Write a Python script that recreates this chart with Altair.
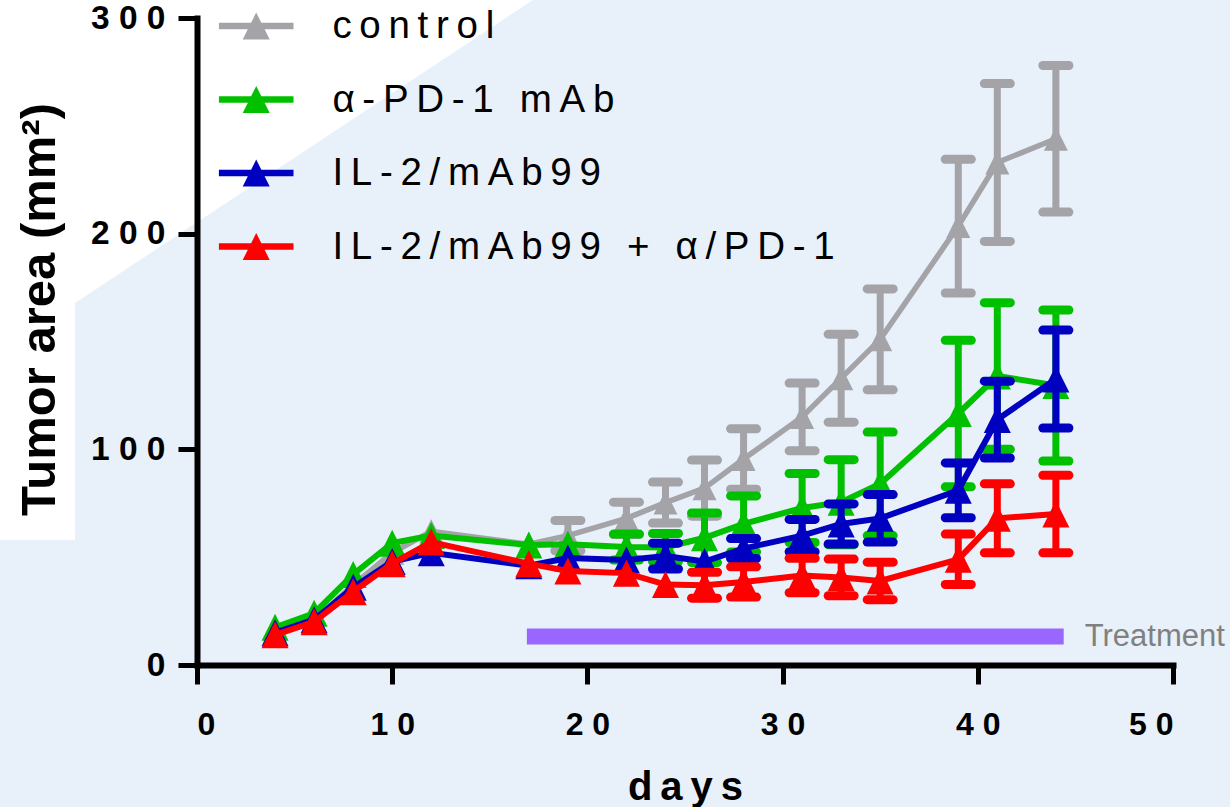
import base64
import altair as alt
import pandas as pd

# ---------------- data ----------------
days = [4, 6, 8, 10, 12, 17, 19, 22, 24, 26, 28, 31, 33, 35, 39, 41, 44]
groups = ["control", "α-PD-1 mAb", "IL-2/mAb99", "IL-2/mAb99 + α/PD-1"]
colors = ["#a3a3a8", "#00c000", "#0000c0", "#ff0000"]

control_mean = [16, 21, 37, 52, 62, 56, 60, 68, 75.3, 82, 95.5, 115, 133, 151, 203.5, 233, 244]
control_sem = [0, 0, 0, 0, 0, 0, 7, 7.5, 9.5, 13, 14, 15.7, 20.4, 23.4, 31, 36.6, 34]
pd1_mean = [17.5, 24, 42, 56.5, 60, 55.6, 56, 54.7, 54.5, 59, 65.4, 72.8, 75.5, 84, 116.6, 134, 129.6]
pd1_sem = [0, 0, 0, 0, 0, 0, 0, 6, 6.5, 11.5, 13, 16, 19.7, 24, 34, 34, 35]
il2_mean = [15, 21, 36, 48, 52, 46, 49.6, 48.7, 50.5, 48, 54, 60, 65.4, 68, 81, 113.8, 132.6]
il2_sem = [0, 0, 0, 0, 0, 0, 0, 0, 6, 0, 4.6, 7.5, 9.3, 11, 12.7, 17.8, 22.7]
combo_mean = [14, 20, 34, 47, 57, 47, 43.6, 42.6, 37.3, 37, 38.5, 41.5, 40.6, 39, 49, 68, 70]
combo_sem = [0, 0, 0, 0, 0, 0, 0, 0, 0, 6, 7, 8, 8.5, 8.7, 11.7, 16, 18]

treatment_start = [16.9]
treatment_end = [44.4]
treatment_level = [13.2]
treatment_label = ["Treatment"]

x_ticks = [0, 10, 20, 30, 40, 50]
y_ticks = [0, 100, 200, 300]

# ---------------- table ----------------
means = [control_mean, pd1_mean, il2_mean, combo_mean]
sems = [control_sem, pd1_sem, il2_sem, combo_sem]
rows = []
for g, m, s in zip(groups, means, sems):
    for d, mv, sv in zip(days, m, s):
        rows.append({"group": g, "day": d, "mean": mv, "sem": sv,
                     "lo": mv - sv, "hi": mv + sv})
df = pd.DataFrame(rows)

treat = pd.DataFrame({"start": treatment_start, "end": treatment_end,
                      "level": treatment_level, "label": treatment_label})

FONT = "Liberation Sans"
THIN = "\u2009"

xs = alt.Scale(domain=[0, 50], nice=False, zero=False)
ys = alt.Scale(domain=[0, 300], nice=False)

x_axis = alt.Axis(values=x_ticks, title=THIN.join("days"), zindex=1,
                  labelExpr="join(split(datum.label, ''), ' ')",
                  titleX=488, titleY=134, titleBaseline="alphabetic", titleAlign="center")
y_axis = alt.Axis(values=y_ticks, title="Tumor area (mm²)", zindex=1,
                  labelExpr="join(split(datum.label, ''), ' ')",
                  titleAngle=270, titleX=-143, titleY=291,
                  titleBaseline="alphabetic", titleAlign="center")

# background decoration: white wedge in the upper left
svg = ('<svg xmlns="http://www.w3.org/2000/svg" width="533" height="540" '
       'viewBox="0 0 533 540"><polygon points="0,0 533,0 75,303 75,540 0,540" '
       'fill="#ffffff"/></svg>')
svg_url = "data:image/svg+xml;base64," + base64.b64encode(svg.encode()).decode()
bg = alt.Chart(pd.DataFrame({"u": [svg_url]})).mark_image(
    aspect=False, align="left", baseline="top", width=533, height=540
).encode(url="u:N", x=alt.value(-197), y=alt.value(-18))

treat_bar = alt.Chart(treat).mark_rule(color="#9966ff", strokeWidth=16, strokeCap="butt").encode(
    x=alt.X("start:Q", scale=xs, axis=x_axis),
    x2="end:Q",
    y=alt.Y("level:Q", scale=ys, axis=y_axis),
)
treat_text = alt.Chart(treat).mark_text(
    align="left", baseline="middle", dx=21, fontSize=31, font=FONT, color="#808080"
).encode(x=alt.X("end:Q", scale=xs), y=alt.Y("level:Q", scale=ys), text="label:N")

tri = "M0,-1L1,1L-1,1Z"
leg_sym = "M-1,-0.085H1V0.085H-1Z M0,-0.362L0.362,0.362L-0.362,0.362Z"
legend = alt.Legend(
    title=None, orient="none", legendX=21.7, legendY=-29.5, padding=0,
    symbolType=leg_sym, symbolSize=5565, symbolStrokeWidth=0, symbolOpacity=1,
    labelFontSize=38.5, labelFont=FONT, labelLimit=900, labelOffset=38.7,
    rowPadding=16.5, labelColor="#000000",
    labelExpr="join(split(datum.label, ''), '\u2009')",
)
fill_scale = alt.Scale(domain=groups, range=colors)

layers = [bg, treat_bar, treat_text]
base = alt.Chart(df)
for g, c in zip(groups, colors):
    sub = base.transform_filter(alt.datum.group == g)
    bars = sub.transform_filter(alt.datum.sem > 0)
    vbar = bars.mark_rule(color=c, strokeWidth=7).encode(
        x=alt.X("day:Q", scale=xs), y=alt.Y("lo:Q", scale=ys), y2="hi:Q")
    cap_hi = bars.mark_rule(color=c, strokeWidth=9, strokeCap="round",
                            xOffset=-13, x2Offset=13).encode(
        x=alt.X("day:Q", scale=xs), x2="day:Q", y=alt.Y("hi:Q", scale=ys))
    cap_lo = bars.mark_rule(color=c, strokeWidth=9, strokeCap="round",
                            xOffset=-13, x2Offset=13).encode(
        x=alt.X("day:Q", scale=xs), x2="day:Q", y=alt.Y("lo:Q", scale=ys))
    line = sub.mark_line(color=c, strokeWidth=6 if g != "control" else 5.5).encode(
        x=alt.X("day:Q", scale=xs), y=alt.Y("mean:Q", scale=ys))
    pts = sub.mark_point(filled=True, opacity=1, shape=tri,
                         size=576 if g == "control" else 729).encode(
        x=alt.X("day:Q", scale=xs), y=alt.Y("mean:Q", scale=ys),
        fill=alt.Fill("group:N", scale=fill_scale, legend=legend))
    layers += [vbar, cap_hi, cap_lo, line, pts]

chart = alt.layer(*layers).properties(
    width=976, height=647,
    autosize=alt.AutoSizeParams(type="none"),
    padding={"left": 197, "top": 18, "right": 57, "bottom": 142},
    background="#e8f0fa",
).configure_view(stroke=None).configure_axis(
    grid=False,
    domainColor="#000000", domainWidth=6, domainCap="square",
    tickColor="#000000", tickWidth=5, tickSize=19,
    labelFont=FONT, labelFontSize=32, labelFontWeight="bold", labelColor="#000000",
    titleFont=FONT, titleColor="#000000", titleFontWeight="bold",
).configure_axisX(
    labelPadding=25, titleFontSize=40,
).configure_axisY(
    labelPadding=13, labelFontSize=33.5, titleFontSize=49,
)

chart.save("out.html", embed_options={"renderer": "svg", "actions": False})
